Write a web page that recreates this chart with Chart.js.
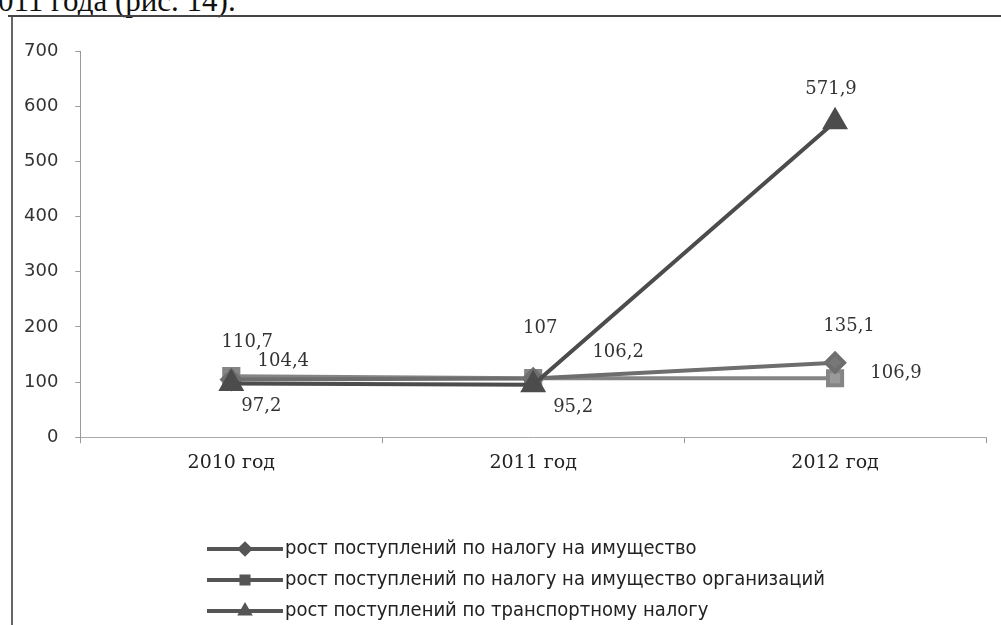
<!DOCTYPE html>
<html>
<head>
<meta charset="utf-8">
<script src="https://cdn.jsdelivr.net/npm/chart.js@4"></script>
<style>
  html, body { margin: 0; padding: 0; background: #fff; overflow: hidden; }
  #wrap { position: relative; width: 1001px; height: 625px; }
  #pageText {
    position: absolute; left: -2px; top: -17px;
    font-family: "Liberation Serif", serif; font-size: 31px; color: #111;
    white-space: nowrap;
  }
  #topLine { position: absolute; left: 8px; top: 15px; width: 993px; height: 2px; background: #444; }
  #leftLine { position: absolute; left: 11px; top: 17px; width: 2px; height: 608px; background: #666; }
  canvas { position: absolute; left: 0; top: 0; }
</style>
</head>
<body>
<div id="wrap">
  <div id="pageText">011 года (рис. 14).</div>
  <div id="topLine"></div>
  <div id="leftLine"></div>
  <canvas id="myChart" width="1001" height="625"></canvas>
</div>
<script>
// Data
const years = ["2010 год", "2011 год", "2012 год"];
const propertyTax = [104.4, 106.2, 135.1];
const orgPropertyTax = [110.7, 107, 106.9];
const transportTax = [97.2, 95.2, 571.9];
const seriesNames = [
    "рост поступлений по налогу на имущество",
    "рост поступлений по налогу на имущество организаций",
    "рост поступлений по транспортному налогу"
];

// label offsets (dx, dy) per dataset, per point
const labelOffsets = [
    [[52, -18], [85, -26], [14, -36]],
    [[16, -34], [7, -50], [61, -5]],
    [[30, 23], [40, 23], [-4, -32]]
];

const fmt = v => String(v).replace(".", ",");

// draws value labels next to points
const valueLabels = {
    id: "valueLabels",
    afterDatasetsDraw(chart) {
        const ctx = chart.ctx;
        ctx.save();
        ctx.font = "18px 'DejaVu Serif', serif";
        ctx.fillStyle = "#333";
        ctx.textAlign = "center";
        ctx.textBaseline = "middle";
        chart.data.datasets.forEach((ds, i) => {
            chart.getDatasetMeta(i).data.forEach((pt, j) => {
                const off = labelOffsets[i][j];
                ctx.fillText(fmt(ds.data[j]), pt.x + off[0], pt.y + off[1]);
            });
        });
        ctx.restore();
    }
};

// vertical legend at bottom
const stackedLegend = {
    id: "stackedLegend",
    afterDraw(chart) {
        const ctx = chart.ctx;
        ctx.save();
        chart.data.datasets.forEach((ds, i) => {
            const y = 549 + i * 31;
            ctx.strokeStyle = "#555";
            ctx.lineWidth = 4;
            ctx.beginPath();
            ctx.moveTo(207, y);
            ctx.lineTo(283, y);
            ctx.stroke();
            ctx.fillStyle = "#555";
            ctx.strokeStyle = "#555";
            Chart.helpers.drawPoint(ctx, {
                pointStyle: ds.pointStyle, radius: 5, borderWidth: 1
            }, 245, y);
            ctx.fillStyle = "#222";
            ctx.font = "20px 'Liberation Sans Narrow', 'DejaVu Sans Condensed', sans-serif";
            ctx.textBaseline = "middle";
            ctx.fillText(seriesNames[i], 285, y);
        });
        ctx.restore();
    }
};

new Chart(document.getElementById("myChart"), {
    type: "line",
    data: {
        labels: years,
        datasets: [
            {
                label: seriesNames[0],
                data: propertyTax,
                borderColor: "#6e6e6e",
                backgroundColor: "#777",
                pointStyle: "rectRot",
                pointRadius: 9,
                borderWidth: 4,
                order: 2
            },
            {
                label: seriesNames[1],
                data: orgPropertyTax,
                borderColor: "#858585",
                backgroundColor: "#9a9a9a",
                pointStyle: "rect",
                pointRadius: 10,
                borderWidth: 4,
                order: 3
            },
            {
                label: seriesNames[2],
                data: transportTax,
                borderColor: "#4c4c4c",
                backgroundColor: "#4c4c4c",
                pointStyle: "triangle",
                pointRadius: 11,
                borderWidth: 4,
                order: 1
            }
        ]
    },
    options: {
        responsive: false,
        animation: false,
        layout: { padding: { left: 7, right: 14, top: 51, bottom: 143 } },
        plugins: {
            legend: { display: false },
            tooltip: { enabled: false }
        },
        scales: {
            x: {
                offset: true,
                grid: { offset: true, drawOnChartArea: false, tickLength: 6, color: "#999" },
                border: { color: "#aaa" },
                ticks: { color: "#222", font: { family: "'DejaVu Serif', serif", size: 19 }, padding: 8 }
            },
            y: {
                min: 0,
                max: 700,
                ticks: { stepSize: 100, color: "#333", font: { family: "'DejaVu Sans', sans-serif", size: 18 }, padding: 17 },
                grid: { drawOnChartArea: false, tickLength: 5, color: "#999" },
                border: { color: "#999" }
            }
        }
    },
    plugins: [valueLabels, stackedLegend]
});
</script>
</body>
</html>
